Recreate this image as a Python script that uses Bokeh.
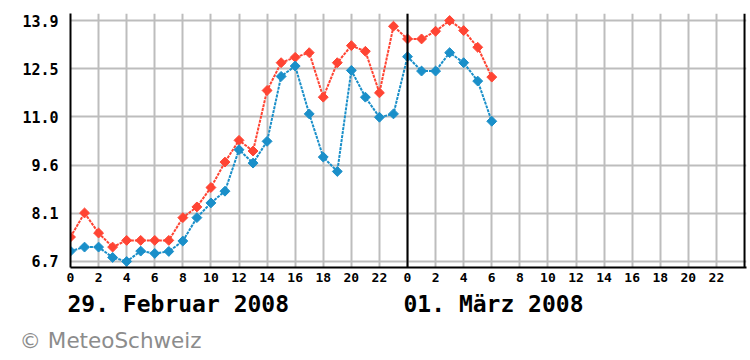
from bokeh.plotting import figure
from bokeh.models import (FixedTicker, Span, Range1d, ColumnDataSource, LinearAxis,
                          Title)
from bokeh.embed import file_html
from bokeh.resources import INLINE
import math

# ---- data ----
hours = list(range(31))
temp_red = [7.43, 8.15, 7.55, 7.13, 7.33, 7.33, 7.33, 7.33, 8.01, 8.33, 8.91, 9.67,
            10.32, 10.0, 11.81, 12.64, 12.80, 12.94, 11.61, 12.64, 13.15, 12.98, 11.74,
            13.73, 13.35, 13.35, 13.58, 13.9, 13.6, 13.1, 12.21]
temp_blue = [7.01, 7.13, 7.13, 6.82, 6.7, 7.01, 6.94, 7.0, 7.31, 8.01, 8.45, 8.80,
             10.04, 9.64, 10.29, 12.23, 12.54, 11.11, 9.82, 9.39, 12.41, 11.61, 11.01,
             11.11, 12.82, 12.39, 12.39, 12.94, 12.64, 12.09, 10.89]
y_ticks = [6.7, 8.14, 9.58, 11.02, 12.46, 13.9]
y_tick_labels = ["6.7", "8.1", "9.6", "11.0", "12.5", "13.9"]
x_ticks = list(range(0, 48, 2))
x_tick_labels = [str(h % 24) for h in x_ticks]
day_starts = [0, 24]
day_labels = ["29. Februar 2008", "01. März 2008"]
credit = "© MeteoSchweiz"

RED = "#ff4433"
BLUE = "#1a8fc9"
GRID = "#bdbdbd"

X_END = 48.14
FRAME_W = 750 - 70 - 4
PX_PER_H = FRAME_W / X_END
DATE_FONT_PX = 23

p = figure(width=750, height=360, output_backend="svg", toolbar_location=None,
           x_range=Range1d(0, X_END), y_range=Range1d(6.52, 14.11),
           min_border_left=70, min_border_right=4, min_border_top=13,
           min_border_bottom=93)
p.outline_line_color = None
p.background_fill_color = "white"
p.border_fill_color = "white"

# axes
p.xaxis.ticker = FixedTicker(ticks=x_ticks)
p.xaxis.major_label_overrides = {t: l for t, l in zip(x_ticks, x_tick_labels)}
p.yaxis.ticker = FixedTicker(ticks=y_ticks)
p.yaxis.major_label_overrides = {t: l for t, l in zip(y_ticks, y_tick_labels)}
for ax in (p.xaxis, p.yaxis):
    ax.axis_line_color = "black"
    ax.axis_line_width = 2
    ax.major_tick_in = 0
    ax.major_tick_out = 0
    ax.minor_tick_line_color = None
    ax.major_label_text_font = "DejaVu Sans Mono"
    ax.major_label_text_font_style = "bold"
    ax.major_label_text_color = "black"
p.yaxis.major_label_text_font_size = "15px"
p.yaxis.major_label_standoff = 12
p.xaxis.major_label_text_font_size = "13px"
p.xaxis.major_label_standoff = 5

# date axis (labels start at each day's 0 h)
date_pos = []
for d, txt, off in zip(day_starts, day_labels, (-3, -4)):
    half_w = len(txt) * 0.602 * DATE_FONT_PX / 2
    date_pos.append(d + (off + half_w) / PX_PER_H)
date_axis = LinearAxis(ticker=FixedTicker(ticks=date_pos),
                       major_label_overrides={t: l for t, l in zip(date_pos, day_labels)})
date_axis.axis_line_color = None
date_axis.major_tick_line_color = None
date_axis.minor_tick_line_color = None
date_axis.major_label_standoff = 0
date_axis.major_label_text_font = "DejaVu Sans Mono"
date_axis.major_label_text_font_style = "bold"
date_axis.major_label_text_font_size = f"{DATE_FONT_PX}px"
date_axis.major_label_text_color = "black"
p.add_layout(date_axis, "below")

p.add_layout(Title(text=credit, align="left", offset=-51, text_font="DejaVu Sans",
                   text_font_size="21.5px", text_font_style="normal",
                   text_color="#8c8c8c", standoff=12), "below")

p.xgrid.ticker = FixedTicker(ticks=x_ticks)
p.ygrid.ticker = FixedTicker(ticks=y_ticks)
for g in (p.xgrid, p.ygrid):
    g.grid_line_color = GRID
    g.grid_line_width = 2

# day separators / right border
for xs in (24, 48):
    p.add_layout(Span(location=xs, dimension="height", line_color="black", line_width=2))

src = ColumnDataSource(dict(h=hours, r=temp_red, b=temp_blue))
p.line("h", "r", source=src, line_color=RED, line_width=2, line_dash="3 1")
p.line("h", "b", source=src, line_color=BLUE, line_width=2, line_dash="3 1")
p.scatter("h", "r", source=src, marker="square", angle=math.pi / 4, size=7,
          fill_color=RED, line_color=RED)
p.scatter("h", "b", source=src, marker="square", angle=math.pi / 4, size=7,
          fill_color=BLUE, line_color=BLUE)

open("out.html", "w").write(file_html(p, INLINE))
